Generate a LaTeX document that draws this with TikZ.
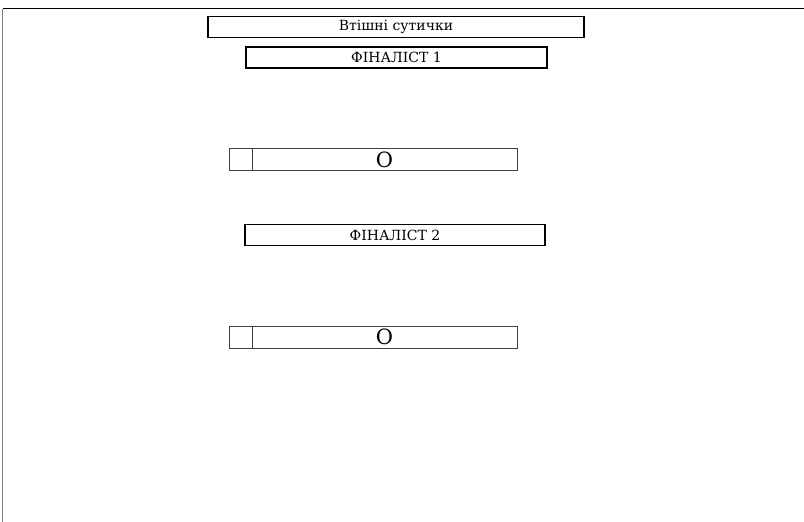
\documentclass[tikz,border=0pt]{standalone}
\usepackage{fontspec}
\setmainfont{DejaVu Serif}
\usepackage{tikz}

\begin{document}
\begin{tikzpicture}[x=1pt,y=-1pt,
    title/.style={draw,line width=1.6pt,minimum height=21pt,inner sep=0pt,font=\fontsize{14}{16}\selectfont},
    cell/.style={draw=black!75,line width=0.8pt,minimum height=22pt,inner sep=0pt},
    score/.style={cell,font=\fontsize{21}{23}\selectfont}]
         \useasboundingbox (0,0) rectangle (804,522);
         \coordinate (tl) at (2.5,8.5);
         \coordinate (tr) at (804,8.5);
         \coordinate (bl) at (2.5,522);
         \draw[line width=1.5pt] (tl) -- (tr);
         \draw[line width=1.5pt, gray] (tl) -- (bl);
         \node[title, minimum width=376pt] (cons) at (396,27) {Втішні сутички};
         \node[title, minimum width=301pt] (fin1) at (396.5,57.5) {ФІНАЛІСТ 1};
         \node[cell, minimum width=23pt] (n1) at (240.5,159.5) {};
         \node[score, minimum width=265pt] (s1) at (384.5,159.5) {O};
         \node[title, minimum width=300pt] (fin2) at (395,235) {ФІНАЛІСТ 2};
         \node[cell, minimum width=23pt] (n2) at (240.5,337) {};
         \node[score, minimum width=265pt] (s2) at (384.5,337) {O};
      \end{tikzpicture}
\end{document}
